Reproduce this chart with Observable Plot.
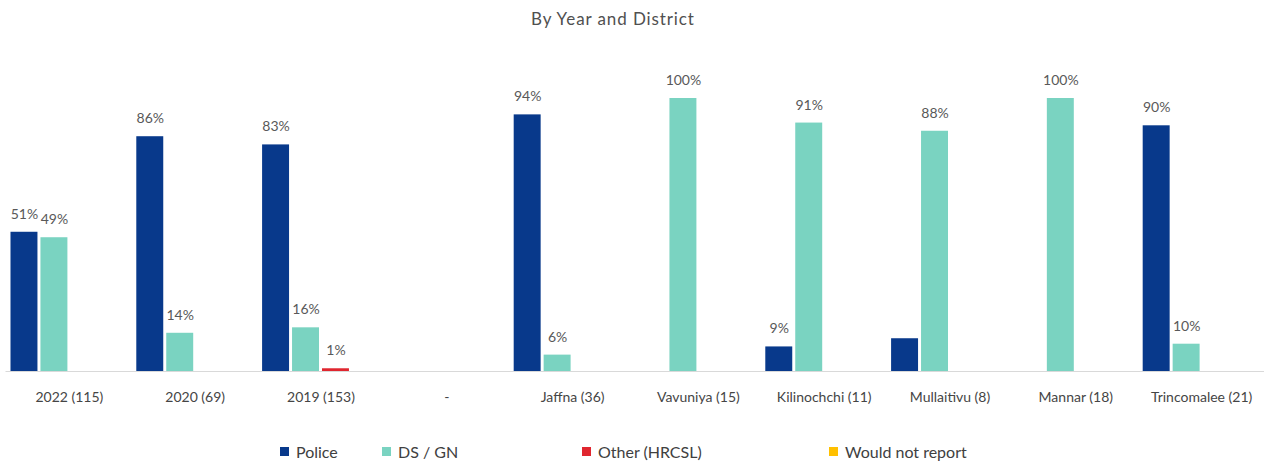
<!DOCTYPE html>
<html>
<head>
<meta charset="utf-8">
<script src="https://cdn.jsdelivr.net/npm/d3@7"></script>
<script src="https://cdn.jsdelivr.net/npm/@observablehq/plot@0.6"></script>
<style>
  body { margin: 0; background: #fff; font-family: Lato, "Open Sans", sans-serif; }
  #title { width: 1264px; height: 40px; box-sizing: border-box; padding-right: 38px; text-align: center;
           font-size: 17px; letter-spacing: 0.9px; line-height: 38px; color: #505050; }
  #legend { position: relative; width: 1264px; height: 44px; font-size: 16px; color: #404040; }
  #legend .item { position: absolute; top: 22px; display: flex; align-items: center; white-space: nowrap; }
  #legend .sw { width: 9px; height: 9px; margin-right: 7px; display: inline-block; }
</style>
</head>
<body>
<div id="title">By Year and District</div>
<div id="chart"></div>
<div id="legend"></div>
<script>
const categories = ["2022 (115)", "2020 (69)", "2019 (153)", "-", "Jaffna (36)", "Vavuniya (15)",
                    "Kilinochchi (11)", "Mullaitivu (8)", "Mannar (18)", "Trincomalee (21)"];
const seriesNames = ["Police", "DS / GN", "Other (HRCSL)", "Would not report"];
const seriesColors = ["#08398b", "#7ad3c1", "#e0262f", "#ffc000"];
const police   = [51, 86, 83, null, 94, 0, 9, 12, 0, 90];
const dsgn     = [49, 14, 16, null, 6, 100, 91, 88, 100, 10];
const other    = [0, 0, 1, null, 0, 0, 0, 0, 0, 0];
const wouldNot = [0, 0, 0, null, 0, 0, 0, 0, 0, 0];
// bars that carry no value label in the reference
const unlabeled = [["Mullaitivu (8)", "Police"]];
const legendLeft = [280, 382, 582, 829];

const seriesValues = [police, dsgn, other, wouldNot];
const rows = [];
categories.forEach((c, i) => {
  seriesNames.forEach((s, j) => {
    const v = seriesValues[j][i];
    if (v != null) rows.push({category: c, series: s, value: v});
  });
});
const labelled = rows.filter(d => d.value > 0 &&
  !unlabeled.some(([c, s]) => c === d.category && s === d.series));

const chart = Plot.plot({
  width: 1264,
  height: 380,
  marginTop: 58,
  marginBottom: 49,
  marginLeft: 6,
  marginRight: 0,
  style: {fontFamily: "Lato, 'Open Sans', sans-serif", background: "#fff"},
  fx: {domain: categories, paddingInner: 0.0714, paddingOuter: 0.0357, round: false, label: null},
  x: {domain: seriesNames, padding: 0.1, paddingOuter: 0, round: false, axis: null},
  y: {domain: [0, 100], axis: null},
  color: {domain: seriesNames, range: seriesColors},
  marks: [
    Plot.axisFx({anchor: "bottom", tickSize: 0, tickPadding: 21, fontSize: 14, color: "#454545", label: null}),
    Plot.ruleY(categories, {fx: d => d, y: 0, stroke: "#d9d9d9", strokeWidth: 1.2, insetLeft: -5, insetRight: -5}),
    Plot.barY(rows, {fx: "category", x: "series", y: "value", fill: "series"}),
    Plot.text(labelled, {fx: "category", x: "series", y: "value", text: d => d.value + "%",
      dy: -18, fontSize: 14, fill: "#595959"})
  ]
});
document.getElementById("chart").append(chart);

const legend = document.getElementById("legend");
seriesNames.forEach((s, i) => {
  const item = document.createElement("div");
  item.className = "item";
  item.style.left = legendLeft[i] + "px";
  const sw = document.createElement("span");
  sw.className = "sw";
  sw.style.background = seriesColors[i];
  item.append(sw, document.createTextNode(s));
  legend.append(item);
});
</script>
</body>
</html>
